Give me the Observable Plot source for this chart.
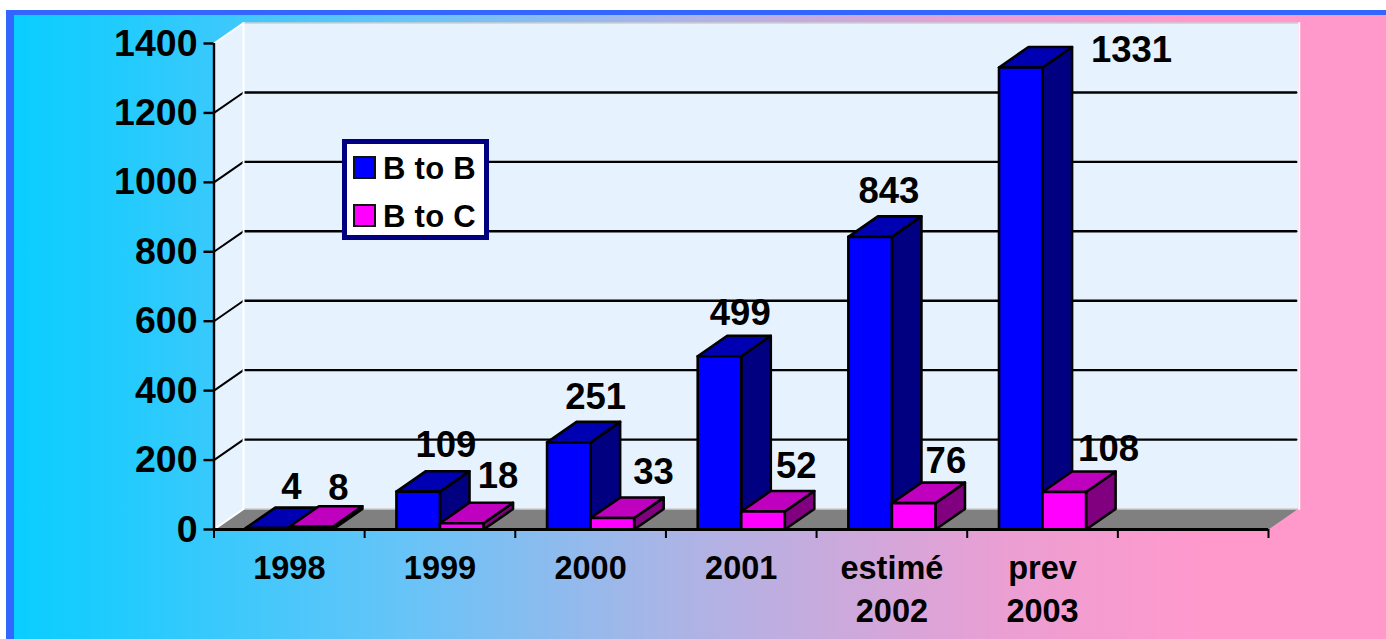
<!DOCTYPE html>
<html>
<head>
<meta charset="utf-8">
<script src="https://cdn.jsdelivr.net/npm/d3@7"></script>
<script src="https://cdn.jsdelivr.net/npm/@observablehq/plot@0.6"></script>
<style>
  html, body { margin: 0; padding: 0; background: #fff; width: 1386px; height: 639px; overflow: hidden; }
  #panel { position: absolute; left: 6px; top: 10px; right: 0; bottom: 0; box-sizing: border-box;
    border-top: 5px solid #3366ff; border-left: 8px solid #3366ff;
    background: linear-gradient(to right, #08ceff 0px, #66c4f8 386px, #a8b5e7 646px, #ea9fd3 986px, #ff99cc 1190px); }
  #chart { position: absolute; left: 0; top: 0; }
  #chart svg { background: transparent; overflow: visible; }
  #legend { position: absolute; left: 342px; top: 139px; width: 147px; height: 101px; box-sizing: border-box;
    background: #fff; border: 5px solid #000080; font: bold 31px "Liberation Sans", Arial, sans-serif; color: #000; letter-spacing: 0.3px; }
  #legend .sw { position: absolute; left: 6px; width: 23px; height: 23px; box-sizing: border-box; border: 2px solid #111; }
  #legend .lb { position: absolute; left: 36px; line-height: 34px; white-space: nowrap; }
</style>
</head>
<body>
<div id="panel"></div>
<div id="chart"></div>
<div id="legend">
  <div class="sw" style="top:12px;background:#0000ff"></div><div class="lb" style="top:8px">B to B</div>
  <div class="sw" style="top:60px;background:#ff00ff"></div><div class="lb" style="top:56px">B to C</div>
</div>
<script>
const categories = ["1998", "1999", "2000", "2001", "estimé\n2002", "prev\n2003", ""];
const bToB = [4, 109, 251, 499, 843, 1331];
const bToC = [8, 18, 33, 52, 76, 108];
const yTicks = [0, 200, 400, 600, 800, 1000, 1200, 1400];
const gridValues = [200, 400, 600, 800, 1000, 1200];

// per-label pixel nudges (relative to the category centre / the bar top)
const bToBNudge = [[2, -29], [6, -35], [5, -33], [-1, -31], [-3, -34], [89, -5]];
const bToCNudge = [[49, -27], [58, -35], [63, -34], [55, -33], [54, -30], [66, -31]];

// oblique depth in data units
const DX = 0.196, DY = 59, BAR = 0.289, XMAX = 7, YMAX = 1400;
const FONT = '"Liberation Sans", Arial, sans-serif';

function prism(id, x0, x1, v, front, top, side) {
  const f = (name, c, pts) => [...pts, pts[0]].map(([x, y]) => ({id: id + name, c, x, y}));
  return [
    ...f("s", side, [[x1, 0], [x1 + DX, DY], [x1 + DX, v + DY], [x1, v]]),
    ...f("t", top, [[x0, v], [x0 + DX, v + DY], [x1 + DX, v + DY], [x1, v]]),
    ...f("f", front, [[x0, 0], [x1, 0], [x1, v], [x0, v]])
  ];
}
const bars = bToB.flatMap((v, i) => [
  ...prism("b" + i, i + 0.5 - BAR, i + 0.5, v, "#0000ff", "#0000b3", "#000080"),
  ...prism("c" + i, i + 0.5, i + 0.5 + BAR, bToC[i], "#ff00ff", "#bf00bf", "#800080")
]);
const poly = (id, c, pts) => [...pts, pts[0]].map(([x, y]) => ({id, c, x, y}));
const walls = [
  ...poly("side", "#e6f3ff", [[0, 0], [DX, DY], [DX, YMAX + DY], [0, YMAX]]),
  ...poly("back", "#e6f3ff", [[DX, DY], [XMAX + DX, DY], [XMAX + DX, YMAX + DY], [DX, YMAX + DY]]),
  ...poly("floor", "#808080", [[0, 0], [DX, DY], [XMAX + DX, DY], [XMAX, 0]])
];
const seg = (id, pts) => pts.map(([x, y]) => ({id, x, y}));
const gridSide = gridValues.flatMap(v => seg("gs" + v, [[0, v], [DX, v + DY]]));
const gridBack = gridValues.flatMap(v => seg("gb" + v, [[DX, v + DY], [XMAX + DX - 0.012, v + DY]]));
const whiteEdges = [
  ...seg("e1", [[0, 0], [DX, DY], [DX, YMAX + DY], [0, YMAX]]),
  ...seg("e2", [[XMAX + DX + 0.008, DY], [XMAX + DX + 0.008, YMAX + DY]])
];
const greyEdges = [
  ...seg("g1", [[DX, YMAX + DY], [XMAX + DX, YMAX + DY]]),
  ...seg("g2", [[DX, DY], [XMAX + DX, DY]])
];
const labelMark = (v, i, n) => Plot.text([{x: i + 0.5, y: v, t: String(v)}], {
  x: "x", y: "y", text: "t", dx: n[0], dy: n[1], lineAnchor: "bottom", textAnchor: "middle",
  fontSize: 36.5, fontWeight: "bold", fontFamily: FONT, fill: "#000"
});

const plot = Plot.plot({
  width: 1386, height: 639,
  marginLeft: 213.5, marginRight: 118, marginTop: 43, marginBottom: 110,
  x: {domain: [0, XMAX], axis: null},
  y: {domain: [0, YMAX], axis: null},
  color: {type: "identity"},
  style: {background: "transparent", color: "#000", fontFamily: FONT},
  marks: [
    Plot.line(walls, {x: "x", y: "y", z: "id", fill: "c", stroke: "none"}),
    Plot.line(gridSide, {x: "x", y: "y", z: "id", stroke: "#000", strokeWidth: 2}),
    Plot.line(gridBack, {x: "x", y: "y", z: "id", stroke: "#000", strokeWidth: 2.4}),
    Plot.line(greyEdges, {x: "x", y: "y", z: "id", stroke: "#cfcfcf", strokeWidth: 1.5}),
    Plot.line(whiteEdges, {x: "x", y: "y", z: "id", stroke: "#fff", strokeWidth: 2}),
    Plot.axisY({ticks: yTicks, tickFormat: "d", tickSize: 10, tickPadding: 6.5, strokeWidth: 2.4, label: null,
      fontSize: 37.5, fontWeight: "bold", fontFamily: FONT}),
    Plot.axisX({ticks: d3.range(0, XMAX + 1), tickFormat: () => "", tickSize: 9, strokeWidth: 2, label: null}),
    Plot.ruleX([0], {strokeWidth: 2.4}),
    Plot.ruleY([0], {strokeWidth: 3.2}),
    Plot.line(bars, {x: "x", y: "y", z: "id", fill: "c", stroke: "#000", strokeWidth: 2.6}),
    Plot.ruleY([0], {strokeWidth: 3.2}),
    Plot.text(categories.map((t, i) => ({x: i + 0.5, t})), {
      x: "x", y: () => 0, text: "t", dy: 19.5, lineAnchor: "top", textAnchor: "middle", lineHeight: 1.32,
      fontSize: 32.5, fontWeight: "bold", fontFamily: FONT, fill: "#000"
    }),
    ...bToB.map((v, i) => labelMark(v, i, bToBNudge[i])),
    ...bToC.map((v, i) => labelMark(v, i, bToCNudge[i]))
  ]
});
document.getElementById("chart").appendChild(plot);
</script>
</body>
</html>
